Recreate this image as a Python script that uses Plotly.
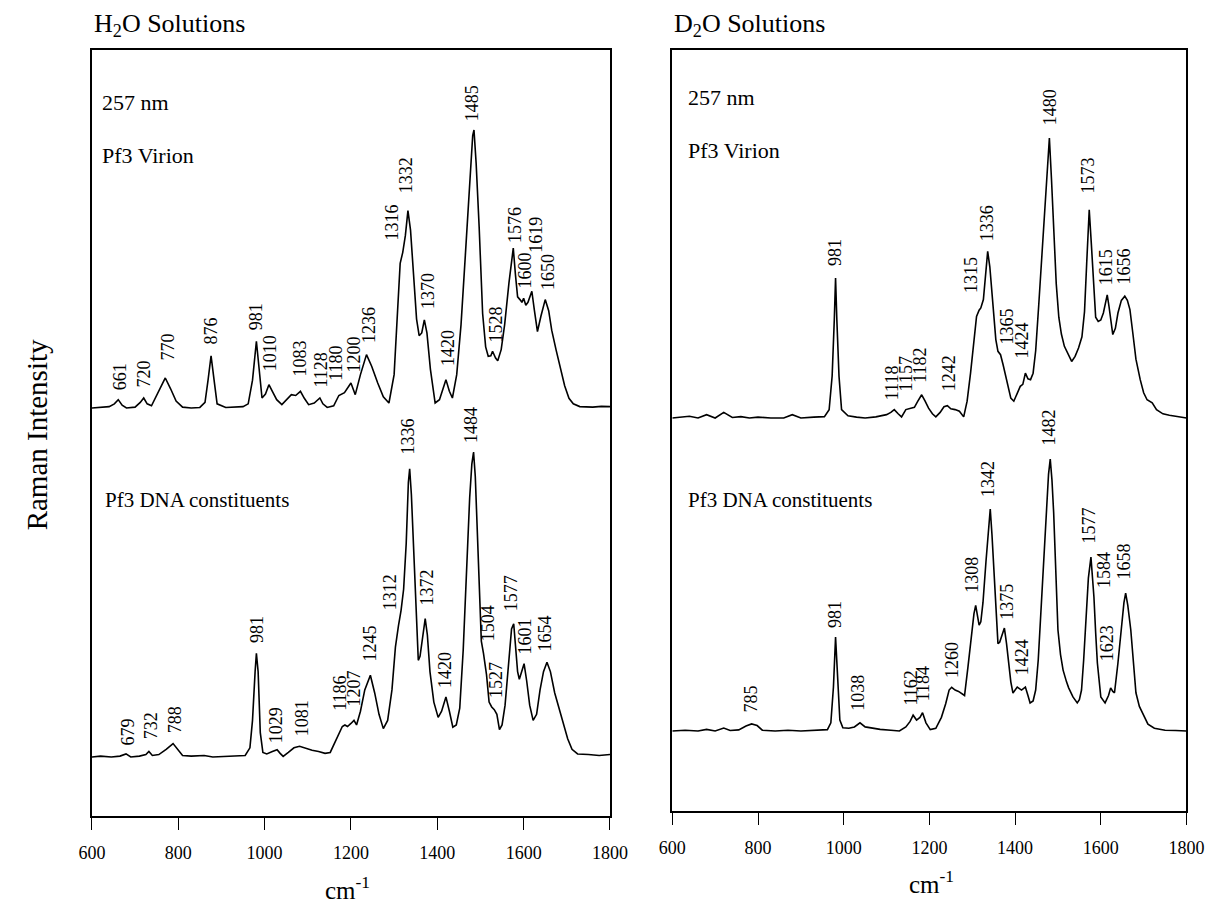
import plotly.graph_objects as go

# ---------------- data (wavenumber cm-1, relative Raman intensity, main peak = 100) ----------------
h2o_virion_x = [600, 640, 652, 661, 670, 680, 700, 712, 720, 728, 738, 755, 770, 782, 795, 810, 830, 850, 862, 869,
                876, 883, 890, 910, 950, 962, 972, 981, 988, 994, 1002, 1010, 1018, 1028, 1040, 1052, 1062, 1072, 1083,
                1092, 1102, 1115, 1128, 1135, 1145, 1160, 1172, 1185, 1200, 1210, 1222, 1236, 1248, 1262, 1275, 1288,
                1300, 1308, 1314, 1320, 1326, 1332, 1338, 1345, 1352, 1358, 1364, 1370, 1376, 1384, 1395, 1405, 1413,
                1420, 1428, 1435, 1445, 1455, 1465, 1475, 1482, 1485, 1490, 1497, 1505, 1512, 1518, 1524, 1528, 1535,
                1540, 1548, 1556, 1566, 1572, 1576, 1581, 1586, 1592, 1596, 1600, 1605, 1610, 1616, 1619, 1625, 1632,
                1640, 1650, 1658, 1665, 1675, 1685, 1695, 1705, 1715, 1730, 1760, 1780, 1800]
h2o_virion_y = [0, 0.5, 1.5, 3, 1, 0, 0.3, 2, 3.6, 1.5, 0.8, 6, 10.8, 7, 2.5, 0.3, 0, 0.2, 2, 10,
                18.8, 10, 1.5, 0.2, 0.5, 1.5, 10, 24, 12, 3.6, 5, 8.4, 6, 3, 1.2, 3, 4.8, 4.5, 6,
                3.5, 1.2, 1.8, 3.6, 1.5, 0.2, 0.8, 4.5, 5.5, 9, 4.8, 12, 19.2, 15, 9, 4, 1.8,
                12, 35, 52, 56, 62, 71, 64, 48, 32, 26, 27, 31.7, 27, 14, 1.8, 3, 7,
                10.2, 6, 3.6, 12, 30, 55, 80, 98, 100, 88, 65, 34, 22, 18.6, 18.8, 20.4, 18,
                17, 21, 30, 45, 54, 57.5, 48, 40, 38.9, 38, 39.5, 37, 38, 41, 42, 35, 27.5,
                33, 39, 35, 28, 21, 14, 8, 3.5, 1.5, 0.5, 0.3, 0.6, 0.5]

h2o_dna_x = [600, 620, 645, 665, 679, 690, 710, 725, 732, 740, 755, 772, 788, 798, 810, 830, 860, 880, 920, 955,
             966, 972, 978, 981, 985, 990, 996, 1005, 1018, 1029, 1036, 1043, 1055, 1068, 1081, 1095, 1110, 1125,
             1140, 1152, 1162, 1172, 1180, 1186, 1192, 1200, 1207, 1213, 1222, 1232, 1245, 1255, 1265, 1275, 1285,
             1295, 1303, 1310, 1316, 1322, 1328, 1333, 1336, 1340, 1345, 1350, 1356, 1360, 1366, 1372, 1377, 1383,
             1392, 1402, 1410, 1420, 1428, 1436, 1444, 1452, 1460, 1468, 1475, 1480, 1484, 1488, 1493, 1498, 1502,
             1507, 1514, 1520, 1526, 1532, 1538, 1544, 1550, 1557, 1564, 1572, 1577, 1582, 1586, 1590, 1595, 1601,
             1607, 1614, 1622, 1630, 1638, 1646, 1654, 1662, 1672, 1682, 1692, 1702, 1712, 1725, 1750, 1775, 1800]
h2o_dna_y = [0, 0.3, 0, 0.3, 1, 0, 0.3, 0.8, 1.8, 0.5, 0.8, 2.5, 4.4, 2.5, 0.5, 0.3, 0.5, 0, 0.3, 0.5,
             3, 12, 28, 34, 28, 8, 1.5, 1, 1.8, 2.4, 1.2, 0.2, 1.5, 3, 3.5, 2.8, 2.2, 1.8,
             1.2, 1.5, 4.5, 8, 10, 10.5, 10, 11, 12, 10.5, 15, 22, 26.8, 21, 14, 9.3, 12,
             22, 36, 43, 48, 55, 70, 90, 94.5, 86, 69, 48, 31.7, 33, 40, 45.4, 40, 28,
             18, 13, 15, 19.7, 15, 9.8, 10.5, 16, 35, 62, 85, 96, 100, 92, 72, 50, 38,
             34, 27, 18, 16.4, 15.5, 14, 9, 10.5, 17, 30, 42, 43.7, 36, 28, 25.5, 28, 30.6,
             25, 17, 12, 14, 22, 28, 31.1, 28, 21, 16, 11, 6, 2.5, 1, 0.8, 0.5, 0.8]

d2o_virion_x = [600, 620, 640, 660, 680, 700, 720, 740, 760, 780, 800, 830, 860, 880, 900, 930, 955, 966, 973, 978,
                981, 984, 989, 995, 1010, 1030, 1050, 1075, 1100, 1110, 1118, 1127, 1135, 1145, 1157, 1165, 1173,
                1182, 1190, 1198, 1207, 1215, 1225, 1234, 1242, 1250, 1260, 1270, 1280, 1288, 1296, 1304, 1310,
                1316, 1320, 1326, 1331, 1336, 1341, 1345, 1350, 1355, 1360, 1366, 1372, 1378, 1384, 1390, 1397,
                1404, 1412, 1418, 1424, 1430, 1436, 1442, 1448, 1455, 1462, 1470, 1476, 1480, 1485, 1490, 1496,
                1502, 1508, 1515, 1522, 1532, 1540, 1548, 1556, 1562, 1567, 1573, 1578, 1583, 1588, 1594, 1600,
                1606, 1611, 1615, 1619, 1624, 1628, 1634, 1640, 1648, 1656, 1662, 1668, 1675, 1682, 1692, 1700,
                1708, 1720, 1730, 1745, 1760, 1780, 1800]
d2o_virion_y = [0, 0.3, 0.6, 0, 1.2, 0, 2, 0.2, 0.5, 0, 0.3, 0, 0, 1.2, 0, 0.3, 0.5, 3, 15, 35,
                50, 35, 15, 3, 0.8, 0.3, 0, 0.4, 1.2, 2, 3, 1.5, 0.4, 3, 3.6, 3.8, 6,
                8.3, 6, 3.5, 1.5, 0.4, 2, 4, 4.4, 3.3, 3, 2.4, 0.4, 6, 16, 28, 36.3,
                38.5, 39.3, 42.3, 52, 59.5, 54, 47, 36, 28, 23.8, 22.6, 19, 14.9, 10, 7.1, 6,
                8.5, 11.3, 12, 16, 14, 13.7, 16, 24, 40, 58, 78, 92, 100, 85, 68, 48,
                36, 30, 25.6, 23.5, 20.2, 22, 25, 29, 38, 55, 74.4, 62, 48, 36, 34.5, 35,
                37.5, 42, 44, 40, 33, 29.8, 32, 37.5, 42, 43.5, 42, 38.7, 30, 21, 13.7, 9,
                6.5, 5.4, 3, 1.5, 1, 0.5, 0]

d2o_dna_x = [600, 630, 660, 680, 700, 720, 735, 755, 772, 785, 798, 810, 840, 870, 900, 940, 962, 970, 976, 981,
             986, 991, 998, 1012, 1025, 1038, 1050, 1065, 1085, 1110, 1130, 1145, 1155, 1162, 1170, 1178, 1184,
             1192, 1202, 1215, 1228, 1238, 1246, 1252, 1260, 1268, 1276, 1282, 1290, 1298, 1304, 1308, 1312,
             1316, 1320, 1325, 1332, 1338, 1342, 1346, 1352, 1356, 1360, 1364, 1368, 1375, 1380, 1385, 1390,
             1395, 1405, 1415, 1424, 1430, 1435, 1442, 1448, 1454, 1460, 1466, 1472, 1478, 1482, 1486, 1490,
             1495, 1500, 1506, 1512, 1520, 1525, 1535, 1545, 1550, 1555, 1560, 1565, 1571, 1577, 1581, 1584,
             1588, 1592, 1600, 1610, 1618, 1623, 1628, 1632, 1640, 1648, 1654, 1658, 1663, 1670, 1676, 1682,
             1690, 1700, 1710, 1725, 1750, 1775, 1800]
d2o_dna_y = [0, 0.3, 0, 0.6, 0, 1.1, 0.2, 0.4, 1.8, 2.6, 2, 0.3, 0, 0.3, 0, 0.3, 0.5, 3, 16, 34.4,
             16, 4, 1.2, 1, 1.5, 3, 1.5, 1, 0.6, 0.3, 0, 1.5, 3.5, 5.8, 4, 5, 6.7,
             3, 0.5, 1, 5, 10, 15, 16, 15, 14.5, 13.5, 13, 23.5, 35, 43, 46, 42,
             38.8, 40, 47, 62, 76, 81.3, 72, 52.7, 40, 32, 32.5, 34.4, 37.7, 32, 24.9, 18,
             13.9, 16.1, 15, 16.1, 13, 10.3, 11, 15, 26, 43, 62, 80, 94, 99.6, 92, 80,
             58, 37, 28, 22.3, 18, 15.8, 12.5, 10.3, 11.5, 15, 26, 41.8, 56, 63.7, 56, 49,
             36, 24.9, 12.5, 10.3, 13, 15.8, 14.5, 14, 24.9, 38, 47, 50.5, 46, 37, 24, 14,
             9, 5.5, 2.5, 1, 0.3, 0.2, 0]

# peak labels: text, label centre (cm-1), label bottom (relative intensity)
h2o_virion_labels = ["661", "720", "770", "876", "981", "1010", "1083", "1128", "1180", "1200", "1236",
                     "1316", "1332", "1370", "1420", "1485", "1528", "1576", "1600", "1619", "1650"]
h2o_virion_lab_x = [665, 721, 776, 876, 979, 1013, 1083, 1131, 1166, 1206, 1242,
                    1294, 1328, 1377, 1425, 1481, 1535, 1580, 1604, 1628, 1656]
h2o_virion_lab_y = [5.8, 6.5, 16.5, 22, 27.3, 12.6, 10.8, 6.5, 9, 11.9, 22.7,
                    59.4, 76.6, 35, 14.4, 102.5, 22.7, 58.6, 42.4, 55, 41.7]

h2o_dna_labels = ["679", "732", "788", "981", "1029", "1081", "1186", "1207", "1245", "1312", "1336",
                  "1372", "1420", "1484", "1504", "1527", "1577", "1601", "1654"]
h2o_dna_lab_x = [684, 737, 792, 981, 1025, 1087, 1173, 1208, 1245, 1291, 1331,
                 1374, 1418, 1478, 1518, 1536, 1570, 1602, 1650]
h2o_dna_lab_y = [3, 5, 7.2, 36.7, 4, 6.2, 14.4, 16, 30.8, 47.5, 98.4,
                 49, 22, 102.3, 37.4, 18.7, 47, 32.8, 34]

d2o_virion_labels = ["981", "1118", "1157", "1182", "1242", "1315", "1336", "1365", "1424", "1480",
                     "1573", "1615", "1656"]
d2o_virion_lab_x = [981, 1112, 1145, 1179, 1246, 1297, 1335, 1380, 1417, 1480, 1571, 1613, 1653]
d2o_virion_lab_y = [53.6, 5.7, 8.9, 11.8, 8.9, 43.9, 62.5, 25.4, 20.7, 104, 79.6, 46.8, 46.8]

d2o_dna_labels = ["785", "981", "1038", "1162", "1184", "1260", "1308", "1342", "1375", "1424", "1482",
                  "1577", "1584", "1623", "1658"]
d2o_dna_lab_x = [784, 981, 1033, 1157, 1187, 1253, 1299, 1337, 1381, 1417, 1480, 1573, 1607, 1615, 1653]
d2o_dna_lab_y = [5.9, 37, 6.6, 8.8, 10.3, 18.7, 49.8, 85, 40, 19.8, 104, 68, 51.6, 24.9, 54.6]

x_ticks = [600, 800, 1000, 1200, 1400, 1600, 1800]

# ---------------- layout constants ----------------
W, H = 1223, 907
FONT = "Liberation Serif, Times New Roman, serif"
LEFT = (80, 612, 50, 816)     # x0, x1, ytop, ybottom (pixels)
RIGHT = (676, 1204, 50, 811)

fig = go.Figure()


def add_spectrum(x, y, xa, ya, offset, scale, labels, lx, ly):
    fig.add_trace(go.Scatter(
        x=x, y=[offset + scale * v for v in y], xaxis=xa, yaxis=ya, mode="lines",
        line=dict(color="black", width=1.6), hoverinfo="skip", showlegend=False))
    for t, px, py in zip(labels, lx, ly):
        fig.add_annotation(x=px, y=offset + scale * py, xref=xa, yref=ya, text=t,
                           showarrow=False, textangle=-90, xanchor="center", yanchor="bottom",
                           font=dict(family=FONT, size=18, color="black"))


# data units: pixels above the bottom axis line
add_spectrum(h2o_virion_x, h2o_virion_y, "x", "y", 408, 2.78, h2o_virion_labels, h2o_virion_lab_x, h2o_virion_lab_y)
add_spectrum(h2o_dna_x, h2o_dna_y, "x", "y", 59, 3.05, h2o_dna_labels, h2o_dna_lab_x, h2o_dna_lab_y)
add_spectrum(d2o_virion_x, d2o_virion_y, "x2", "y2", 393, 2.80, d2o_virion_labels, d2o_virion_lab_x, d2o_virion_lab_y)
add_spectrum(d2o_dna_x, d2o_dna_y, "x2", "y2", 80, 2.73, d2o_dna_labels, d2o_dna_lab_x, d2o_dna_lab_y)


def xaxis_cfg(box, anchor):
    return dict(domain=[box[0] / W, box[1] / W], range=[600, 1800], anchor=anchor,
                tickvals=x_ticks, ticktext=[str(v) for v in x_ticks], ticks="outside", ticklen=12,
                tickwidth=1.3, tickcolor="black", showline=True, linecolor="black", linewidth=1.6,
                mirror=True, showgrid=False, zeroline=False, ticklabelstandoff=8,
                tickfont=dict(family=FONT, size=18, color="black"))


def yaxis_cfg(box, anchor):
    return dict(domain=[(H - box[3]) / H, (H - box[2]) / H], range=[0, box[3] - box[2]], anchor=anchor,
                showticklabels=False, ticks="", showline=True, linecolor="black", linewidth=1.6,
                mirror=True, showgrid=False, zeroline=False)


fig.update_layout(
    width=W, height=H, autosize=False,
    margin=dict(l=0, r=0, t=0, b=0),
    paper_bgcolor="white", plot_bgcolor="white",
    xaxis=xaxis_cfg(LEFT, "y"), yaxis=yaxis_cfg(LEFT, "x"),
    xaxis2=xaxis_cfg(RIGHT, "y2"), yaxis2=yaxis_cfg(RIGHT, "x2"),
    font=dict(family=FONT, color="black"),
)


def paper_text(text, px, py, size, xanchor="left", angle=0):
    fig.add_annotation(x=px / W, y=1 - py / H, xref="paper", yref="paper", text=text, showarrow=False,
                       xanchor=xanchor, yanchor="middle", textangle=angle,
                       font=dict(family=FONT, size=size, color="black"))


paper_text("H<sub>2</sub>O Solutions", 80, 25, 26)
paper_text("D<sub>2</sub>O Solutions", 676, 25, 26)
paper_text("257 nm", 88, 103, 22)
paper_text("Pf3 Virion", 88, 156, 22)
paper_text("Pf3 DNA constituents", 91, 500, 21)
paper_text("257 nm", 690, 98, 22)
paper_text("Pf3 Virion", 690, 151, 22)
paper_text("Pf3 DNA constituents", 690, 500, 21)
paper_text("Raman Intensity", 24, 435, 29, xanchor="center", angle=-90)
paper_text("cm<sup>-1</sup>", 342, 888, 25, xanchor="center")
paper_text("cm<sup>-1</sup>", 942, 882, 25, xanchor="center")

fig.write_html("out.html")
